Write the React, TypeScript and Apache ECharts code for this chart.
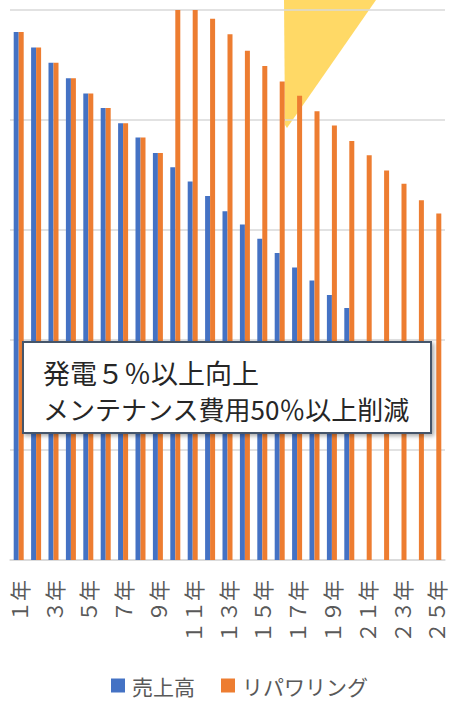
import React, { useEffect, useRef } from "react";
import * as echarts from "echarts";

const categories = [
  "１年", "２年", "３年", "４年", "５年", "６年", "７年", "８年", "９年", "１０年",
  "１１年", "１２年", "１３年", "１４年", "１５年", "１６年", "１７年", "１８年", "１９年", "２０年",
  "２１年", "２２年", "２３年", "２４年", "２５年",
];
const salesValues = [
  4.8, 4.66, 4.52, 4.38, 4.24, 4.11, 3.97, 3.84, 3.7, 3.57,
  3.44, 3.31, 3.17, 3.05, 2.92, 2.79, 2.66, 2.54, 2.41, 2.29,
];
const repoweringValues = [
  4.8, 4.66, 4.52, 4.38, 4.24, 4.11, 3.97, 3.84, 3.7, 5.2,
  5.06, 4.92, 4.78, 4.63, 4.49, 4.35, 4.22, 4.08, 3.95, 3.81,
  3.68, 3.54, 3.42, 3.27, 3.15,
];
const seriesNames = ["売上高", "リパワリング"];
const calloutLines = ["発電５％以上向上", "メンテナンス費用50％以上削減"];

export default function App() {
  const ref = useRef<HTMLDivElement>(null);
  useEffect(() => {
    document.body.style.margin = "0";
    const chart = echarts.init(ref.current!, null, { renderer: "svg" });
    const font = "'Noto Sans CJK JP', 'Noto Sans', sans-serif";
    chart.setOption({
      animation: false,
      backgroundColor: "#ffffff",
      textStyle: { fontFamily: font },
      grid: { left: 10, right: 4, top: 10, bottom: 143, containLabel: false },
      legend: {
        left: 111,
        top: 675,
        padding: 0,
        itemWidth: 14,
        itemHeight: 14,
        itemGap: 26,
        icon: "rect",
        textStyle: { color: "#595959", fontSize: 21, fontFamily: font, padding: [0, 0, 0, 2] },
        data: seriesNames,
      },
      xAxis: {
        type: "category",
        data: categories,
        axisLine: { show: true, lineStyle: { color: "#d9d9d9", width: 1.5 } },
        axisTick: { show: false },
        axisLabel: {
          interval: 1,
          rotate: 90,
          margin: 20,
          color: "#595959",
          fontSize: 21,
          fontFamily: font,
        },
      },
      yAxis: {
        type: "value",
        min: 0,
        max: 5,
        interval: 1,
        axisLabel: { show: false },
        axisLine: { show: false },
        axisTick: { show: false },
        splitLine: { lineStyle: { color: "#d9d9d9", width: 1.5 } },
      },
      series: [
        {
          name: seriesNames[0],
          type: "bar",
          data: salesValues,
          barWidth: 5,
          barGap: "0%",
          itemStyle: { color: "#4472C4" },
          clip: true,
        },
        {
          name: seriesNames[1],
          type: "bar",
          data: repoweringValues,
          barWidth: 5,
          barGap: "0%",
          itemStyle: { color: "#ED7D31" },
          clip: true,
        },
      ],
      graphic: [
        {
          type: "polygon",
          z: -10,
          silent: true,
          shape: { points: [[284, 0], [376, 0], [287, 128], [285, 125]] },
          style: { fill: "#FFD966" },
        },
        {
          type: "rect",
          z: 100,
          shape: { x: 23, y: 342, width: 408, height: 91 },
          style: {
            fill: "#ffffff",
            stroke: "#44546A",
            lineWidth: 2,
            shadowBlur: 4,
            shadowOffsetX: 2,
            shadowOffsetY: 2,
            shadowColor: "rgba(0,0,0,0.35)",
          },
        },
        {
          type: "text",
          z: 101,
          x: 43,
          y: 372,
          style: {
            text: calloutLines[0],
            fill: "#262626",
            fontSize: 27,
            fontFamily: font,
            verticalAlign: "middle",
          },
        },
        {
          type: "text",
          z: 101,
          x: 43,
          y: 408,
          style: {
            text: calloutLines[1],
            fill: "#262626",
            fontSize: 26,
            fontFamily: font,
            verticalAlign: "middle",
          },
        },
      ],
    });
    return () => chart.dispose();
  }, []);
  return <div ref={ref} style={{ width: 449, height: 703 }} />;
}
